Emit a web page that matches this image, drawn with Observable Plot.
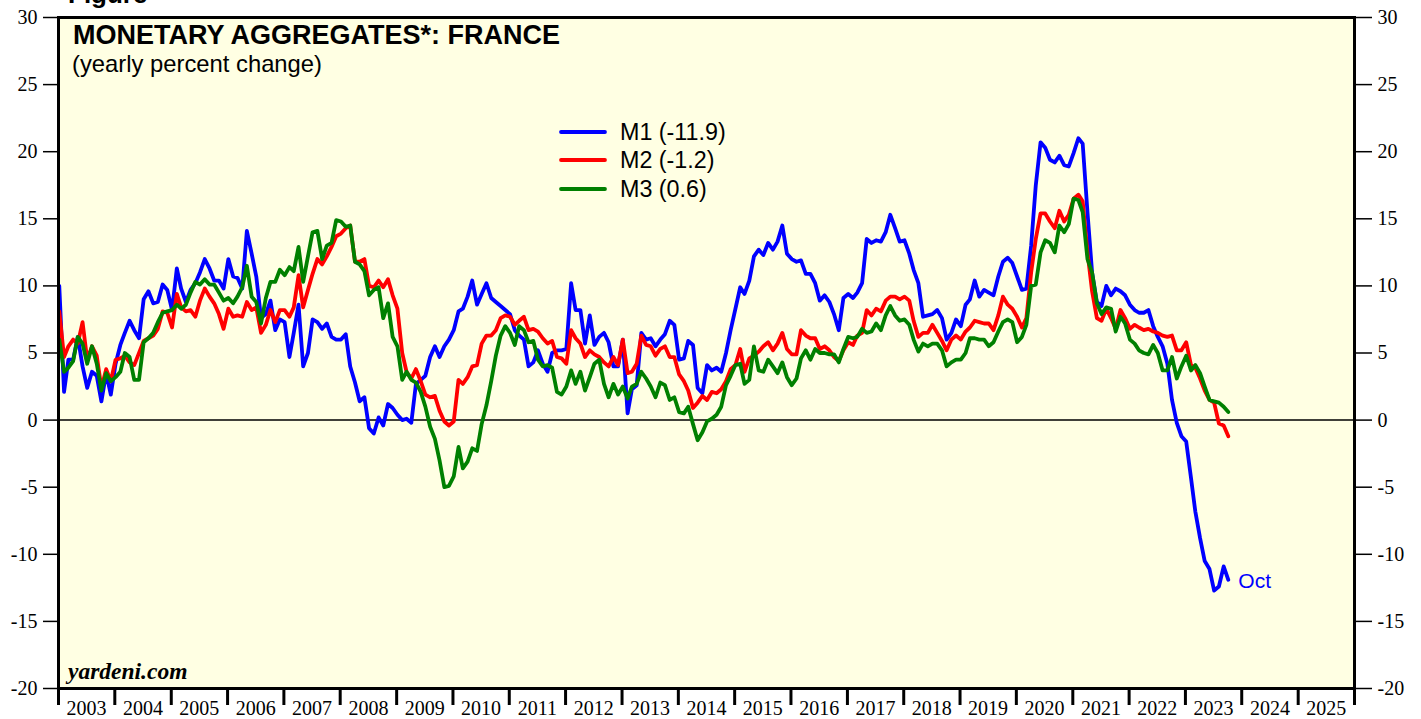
<!DOCTYPE html>
<html><head><meta charset="utf-8">
<script src="https://cdn.jsdelivr.net/npm/d3@7"></script>
<script src="https://cdn.jsdelivr.net/npm/@observablehq/plot@0.6"></script>
<style>
body{margin:0;background:#fff;}
#chart{position:relative;width:1421px;height:719px;overflow:hidden;}
</style></head><body><div id="chart"></div>
<script>
const seriesNames = ["M1", "M2", "M3"];
const seriesColors = ["#0000ff", "#ff0000", "#008000"];
const startYear = 2003;
const lastMonthLabel = "Oct";
const titleText = "MONETARY AGGREGATES*: FRANCE";
const subtitleText = "(yearly percent change)";
const sourceText = "yardeni.com";
const yTicks = [-20, -15, -10, -5, 0, 5, 10, 15, 20, 25, 30];
const yearLabels = [2003,2004,2005,2006,2007,2008,2009,2010,2011,2012,2013,2014,2015,2016,2017,2018,2019,2020,2021,2022,2023,2024,2025];

// monthly yearly % change, Jan 2003 .. Oct 2023
const m1 = [
10.0,2.1,4.5,4.5,6.2,4.0,2.4,3.6,3.3,1.4,3.5,1.9,
4.2,5.6,6.5,7.4,6.7,6.1,9.0,9.6,8.7,8.8,10.1,9.7,
8.2,11.3,9.8,8.8,9.7,10.2,11.0,12.0,11.3,10.4,10.4,9.8,
12.0,10.7,10.6,9.8,14.1,12.4,10.7,7.6,7.9,8.9,6.7,7.5,
7.3,4.7,6.5,8.6,4.0,5.0,7.5,7.3,6.8,7.2,6.2,6.0,
6.0,6.4,4.0,2.8,1.4,1.7,-0.6,-1.0,0.2,-0.4,1.2,0.9,
0.4,0.0,0.1,-0.2,2.7,3.0,3.3,4.7,5.5,4.7,5.5,6.0,
6.7,8.1,8.3,9.2,10.4,8.6,9.4,10.2,9.1,8.8,8.5,8.2,
7.9,6.7,6.3,6.0,4.0,4.3,5.2,4.2,3.6,5.0,5.2,5.2,
5.3,10.2,8.2,8.2,5.7,7.8,5.6,6.2,6.5,5.8,4.0,4.0,
6.0,0.5,2.3,2.6,6.5,6.0,6.1,5.5,6.0,6.4,7.4,7.1,
4.5,4.6,5.9,5.6,2.4,2.0,4.1,3.7,3.9,3.6,5.0,6.7,
8.3,9.9,9.4,10.4,12.2,12.7,12.3,13.2,12.7,13.3,14.5,12.4,
12.0,11.8,11.9,10.9,10.9,10.2,8.9,9.3,8.8,7.9,6.7,9.1,
9.4,9.1,9.5,10.2,13.5,13.2,13.4,13.3,14.0,15.3,14.3,13.3,
13.4,12.4,11.2,10.2,7.7,7.8,7.9,8.2,7.6,6.0,6.5,7.5,
7.0,8.6,9.0,10.4,9.2,9.7,9.5,9.3,10.7,11.8,12.1,11.7,
10.7,9.7,9.8,13.0,17.5,20.7,20.3,19.4,19.2,19.7,19.0,18.9,
19.9,21.0,20.6,15.5,11.0,8.8,8.5,10.0,9.3,9.8,9.6,9.3,
8.6,8.2,8.0,8.0,8.2,7.0,6.2,5.5,4.2,1.5,-0.2,-1.2,
-1.6,-4.3,-6.8,-8.8,-10.5,-11.1,-12.7,-12.4,-10.9,-11.9
];
const m2 = [
8.1,4.7,5.5,6.0,5.7,7.3,4.5,5.5,4.8,2.4,3.8,2.9,
4.5,4.6,4.8,4.3,4.1,5.0,5.9,6.1,6.3,6.8,8.1,8.0,
6.9,9.4,8.4,8.1,8.2,7.7,8.9,9.8,9.2,8.7,7.9,6.8,
8.3,7.7,7.8,7.7,8.8,8.2,8.4,6.5,7.1,8.2,7.3,8.2,
8.2,7.7,8.4,10.8,8.4,9.7,10.9,12.0,11.6,12.2,12.9,13.7,
13.9,14.3,14.5,11.8,11.8,12.0,10.0,9.9,10.4,9.9,10.5,9.3,
8.3,5.0,3.6,3.1,3.8,2.9,1.9,1.7,1.8,0.7,-0.1,-0.4,
-0.1,3.0,2.7,3.2,4.0,4.1,5.7,6.3,6.3,6.7,7.6,7.8,
7.7,7.1,7.4,7.7,6.7,6.8,6.6,6.1,5.7,5.9,4.7,4.6,
4.2,6.7,6.1,5.7,4.7,5.2,4.9,4.7,4.3,4.0,4.7,4.1,
6.0,3.5,3.6,4.2,6.3,5.6,5.5,4.8,5.3,5.5,4.7,4.7,
3.4,2.9,2.2,0.9,1.3,1.8,1.5,2.1,2.0,2.3,2.9,3.8,
4.1,5.3,3.6,4.6,4.8,5.1,5.5,5.8,5.2,5.7,6.5,5.3,
4.9,4.9,6.7,6.3,6.1,6.1,5.3,5.5,5.2,4.7,4.4,5.2,
5.8,5.6,6.3,6.5,8.2,7.8,8.3,8.1,8.9,9.2,9.2,9.0,
9.2,8.9,7.4,6.2,6.5,6.5,7.1,6.5,5.9,5.2,6.0,6.3,
6.0,6.6,6.9,7.4,7.3,7.2,7.2,6.7,7.8,9.2,8.6,8.3,
7.7,6.9,7.6,11.0,13.5,15.4,15.4,14.8,14.3,15.6,14.8,15.3,
16.5,16.8,16.3,12.5,9.6,7.6,7.4,8.3,7.6,6.8,8.2,7.6,
6.8,7.1,6.9,6.7,6.8,6.6,6.5,6.3,6.2,6.3,5.2,5.2,
5.8,4.1,3.9,3.1,2.2,1.5,1.3,-0.25,-0.4,-1.2
];
const m3 = [
6.0,3.6,3.9,4.4,6.2,5.7,4.2,5.5,4.2,2.2,3.5,2.9,
3.2,3.6,5.0,4.7,3.0,3.0,5.8,6.1,6.5,7.3,8.0,8.1,
8.2,8.6,8.3,8.6,9.5,10.3,10.1,10.5,10.1,10.1,9.5,8.9,
9.1,8.7,9.2,9.9,11.5,9.2,8.8,7.2,9.1,10.3,10.3,11.2,
10.8,11.4,11.1,12.9,10.3,12.2,14.0,14.1,12.0,13.0,13.2,14.9,
14.8,14.4,14.5,11.8,11.6,11.1,9.3,9.7,9.9,7.6,8.7,6.2,
5.5,3.0,3.6,3.0,2.8,2.1,1.0,-0.5,-1.4,-3.0,-5.0,-4.9,
-4.2,-2.0,-3.6,-3.1,-2.1,-2.3,-0.3,1.1,2.9,4.8,6.3,7.0,
6.5,5.6,7.0,6.7,5.8,5.9,4.5,4.0,4.1,3.9,2.1,1.9,
2.5,3.7,2.7,3.6,2.2,3.2,4.2,4.5,2.7,1.7,2.7,1.9,
2.5,1.6,2.5,2.7,3.6,3.1,2.5,1.7,2.8,2.6,1.5,1.7,
0.6,0.5,1.0,-0.3,-1.5,-0.9,-0.1,0.1,0.4,1.0,2.6,3.3,
4.1,4.2,2.7,3.0,5.5,3.7,3.6,4.5,4.0,3.5,4.3,3.2,
2.6,3.1,4.6,5.2,4.5,5.3,5.0,5.0,4.9,4.9,4.3,5.3,
6.2,6.1,6.2,6.8,6.5,6.6,7.2,6.7,7.8,8.5,7.8,7.4,
7.5,7.1,6.0,5.1,5.7,5.5,5.7,5.7,5.2,4.0,4.3,4.5,
4.5,5.0,6.1,6.1,6.0,6.0,5.5,5.8,6.6,7.3,7.5,7.3,
5.8,6.2,7.1,10.0,10.1,12.5,13.4,13.2,12.5,14.5,14.0,14.6,
16.5,16.4,15.5,12.0,11.0,8.7,7.9,8.4,8.3,6.6,7.7,7.2,
6.0,5.7,5.2,5.0,4.9,5.6,5.0,3.7,3.7,4.7,3.1,4.0,
4.8,3.7,4.1,3.5,2.5,1.5,1.4,1.3,1.0,0.6
];

const seriesValues = [m1, m2, m3];
const rows = [];
seriesValues.forEach((arr, k) => arr.forEach((v, i) => rows.push({
  date: new Date(Date.UTC(startYear, i, 6)), value: v, series: seriesNames[k]
})));
const lastM1 = rows.filter(d => d.series === "M1").slice(-1);

const yearBounds = yearLabels.concat([yearLabels[yearLabels.length - 1] + 1]).map(y => new Date(Date.UTC(y, 0, 1)));
const yearMids = yearLabels.map(y => new Date(Date.UTC(y, 6, 2)));

const serif = "'Liberation Serif', 'DejaVu Serif', serif";
const sans = "'Liberation Sans', Arial, sans-serif";

const plot = Plot.plot({
  width: 1421, height: 719,
  marginLeft: 58, marginRight: 67, marginTop: 17, marginBottom: 31,
  style: {fontFamily: serif, fontSize: "20px", color: "#000", background: "transparent", overflow: "visible"},
  x: {type: "utc", domain: [yearBounds[0], yearBounds[yearBounds.length - 1]]},
  y: {domain: [-20, 30]},
  color: {domain: seriesNames, range: seriesColors},
  marks: [
    Plot.frame({fill: "#ffffe3", stroke: null}),
    Plot.ruleY([0], {stroke: "#000", strokeWidth: 1.5}),
    Plot.lineY(rows, {x: "date", y: "value", z: "series", stroke: "series", strokeWidth: 3.8, strokeLinejoin: "round", strokeLinecap: "round"}),
    Plot.text(lastM1, {x: "date", y: "value", text: () => lastMonthLabel, dx: 10, dy: 1, textAnchor: "start", fill: "#0000ff", fontSize: 21, fontFamily: sans}),
    Plot.frame({stroke: "#000", strokeWidth: 3}),
    Plot.axisY({ticks: yTicks, anchor: "left", tickSize: 15, tickPadding: 6, tickFormat: d => String(d), label: null, strokeWidth: 1.5, fontSize: 20, fontFamily: serif}),
    Plot.axisY({ticks: yTicks, anchor: "right", tickSize: 17, tickPadding: 6, tickFormat: d => String(d), label: null, strokeWidth: 1.5, fontSize: 20, fontFamily: serif}),
    Plot.axisX({ticks: yearBounds, tickSize: 17, tickFormat: () => "", label: null, strokeWidth: 3}),
    Plot.axisX({ticks: yearMids, tickSize: 0, tickPadding: 12, tickFormat: d => String(d.getUTCFullYear()), label: null, fontSize: 20, fontFamily: serif})
  ]
});

document.getElementById("chart").appendChild(plot);
const svg = d3.select(plot);
const ann = svg.append("g").attr("text-anchor", "start");

// cut-off figure label at very top (as in the reference)
ann.append("text").attr("x", 68).attr("y", 3).attr("font-family", sans).attr("font-weight", "bold").attr("font-size", 26).text("Figure");

ann.append("text").attr("x", 73).attr("y", 44).attr("font-family", sans).attr("font-weight", "bold").attr("font-size", 27).attr("fill", "#000").text(titleText);
ann.append("text").attr("x", 72).attr("y", 72).attr("font-family", sans).attr("font-size", 23.8).attr("fill", "#000").text(subtitleText);
ann.append("text").attr("x", 68).attr("y", 679).attr("font-family", serif).attr("font-weight", "bold").attr("font-style", "italic").attr("font-size", 23.5).attr("fill", "#000").text(sourceText);

// legend
const legendY = [132, 160, 189];
seriesNames.forEach((name, k) => {
  const vals = seriesValues[k];
  const g = ann.append("g");
  g.append("line").attr("x1", 561).attr("x2", 605).attr("y1", legendY[k]).attr("y2", legendY[k])
    .attr("stroke", seriesColors[k]).attr("stroke-width", 3.8).attr("stroke-linecap", "round");
  g.append("text").attr("x", 620).attr("y", legendY[k]).attr("dy", "0.36em")
    .attr("font-family", sans).attr("font-size", 23.3).attr("fill", "#000")
    .text(`${name} (${vals[vals.length - 1].toFixed(1)})`);
});
</script>
</body></html>
